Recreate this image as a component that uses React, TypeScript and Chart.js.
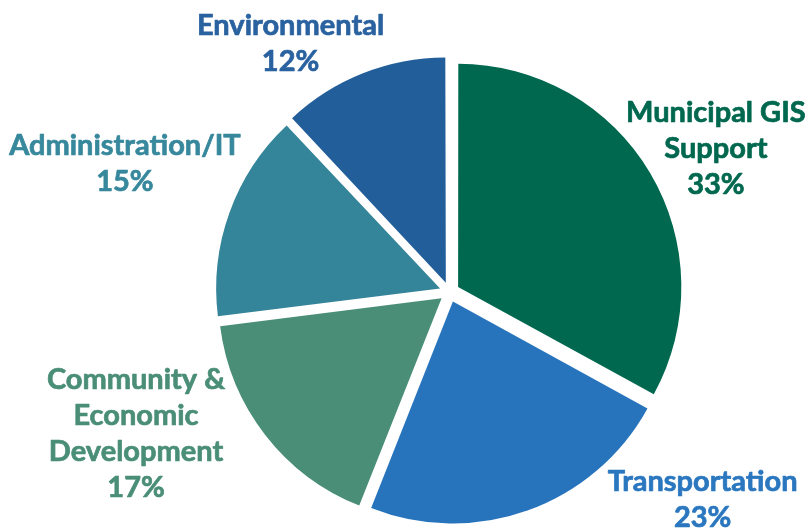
import React, { useEffect, useRef } from "react";
import { Chart, registerables } from "chart.js";

Chart.register(...registerables);

const categories = [
  "Municipal GIS Support",
  "Transportation",
  "Community & Economic Development",
  "Administration/IT",
  "Environmental",
];
const values = [33, 23, 17, 15, 12];
const labelLines = [
  ["Municipal GIS", "Support", "33%"],
  ["Transportation", "23%"],
  ["Community &", "Economic", "Development", "17%"],
  ["Administration/IT", "15%"],
  ["Environmental", "12%"],
];
const sliceColors = ["#00684F", "#2774BD", "#4A8E77", "#35859A", "#225F9A"];
const textColors = ["#00684F", "#2A77BF", "#4A8E77", "#37889C", "#2A62A0"];
// label block centre relative to pie centre, in units of the radius
const labelAnchors = [
  [1.2, -0.645],
  [1.14, 0.937],
  [-1.412, 0.64],
  [-1.462, -0.579],
  [-0.716, -1.12],
];

const labelPlugin = {
  id: "outerLabels",
  afterDraw(chart: any) {
    const ctx = chart.ctx;
    const meta = chart.getDatasetMeta(0);
    const arc0 = meta.data[0] as any;
    const cx = arc0.x;
    const cy = arc0.y;
    const r = arc0.outerRadius;
    const lh = 36;
    ctx.save();
    ctx.font = "bold 29px Lato";
    ctx.textAlign = "center";
    ctx.textBaseline = "middle";
    ctx.lineWidth = 0.7;
    ctx.lineJoin = "round";
    labelLines.forEach((lines, i) => {
      const x = cx + labelAnchors[i][0] * r;
      const y = cy + labelAnchors[i][1] * r;
      ctx.fillStyle = textColors[i];
      ctx.strokeStyle = textColors[i];
      const top = y - ((lines.length - 1) * lh) / 2;
      lines.forEach((t, j) => {
        ctx.fillText(t, x, top + j * lh);
        ctx.strokeText(t, x, top + j * lh);
      });
    });
    ctx.restore();
  },
};

export default function App() {
  const ref = useRef<HTMLCanvasElement>(null);
  useEffect(() => {
    document.body.style.margin = "0";
    const chart = new Chart(ref.current!, {
      type: "pie",
      data: {
        labels: categories,
        datasets: [
          {
            data: values,
            backgroundColor: sliceColors,
            borderWidth: 0,
            offset: 40,
            radius: 222,
          } as any,
        ],
      },
      options: {
        responsive: false,
        animation: false,
        layout: { padding: { left: 90, right: 0, top: 55, bottom: 0 } },
        plugins: {
          legend: { display: false },
          tooltip: { enabled: false },
        },
      },
      plugins: [labelPlugin],
    });
    return () => chart.destroy();
  }, []);
  return <canvas ref={ref} width={809} height={529} style={{ display: "block" }} />;
}
